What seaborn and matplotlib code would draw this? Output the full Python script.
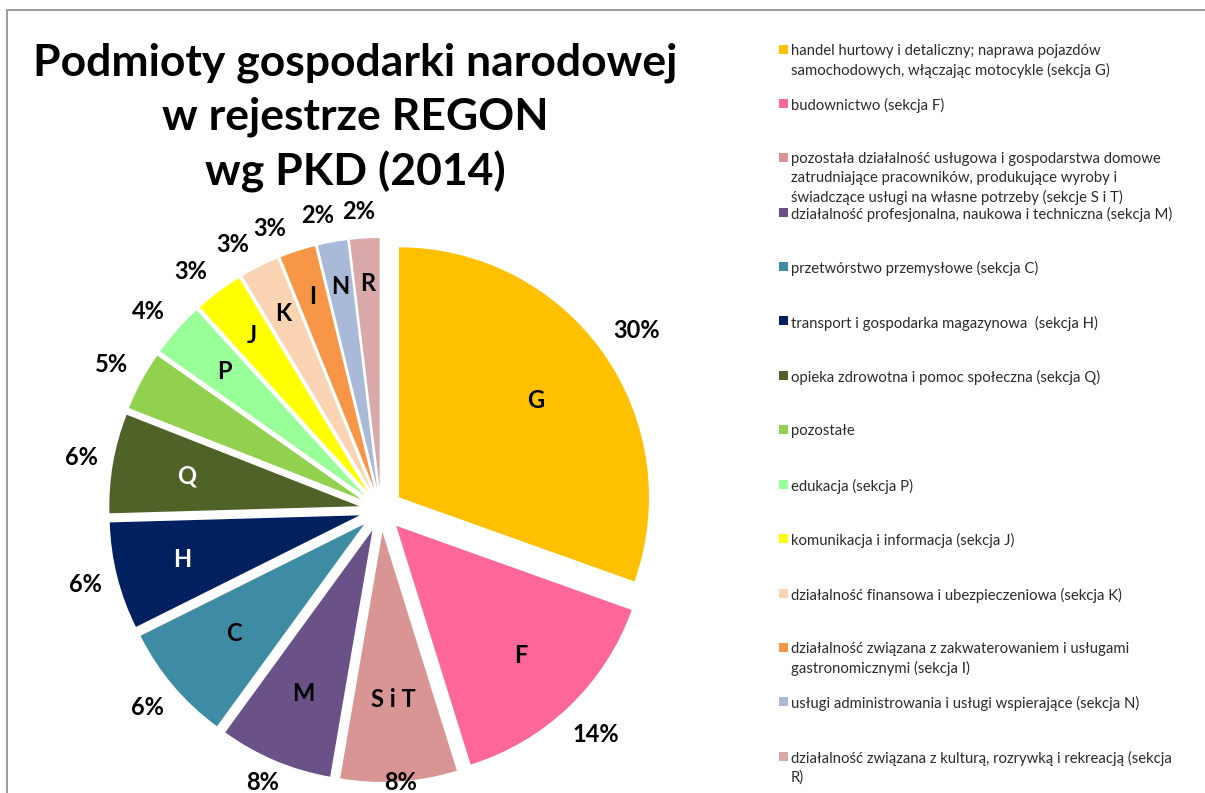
import numpy as np
import seaborn as sns
import matplotlib.pyplot as plt
from matplotlib.patches import Rectangle

sns.set_theme(style="white")
plt.rcParams['font.family'] = ['Lato', 'DejaVu Sans']

# slices, clockwise from 12 o'clock
sections = ["G", "F", "S i T", "M", "C", "H", "Q", "", "P", "J", "K", "I", "N", "R"]
# slice sizes as drawn (share of the full circle, %)
shares = [30.4, 14.7, 7.5, 7.3, 7.6, 6.9, 6.4, 3.8, 3.5, 3.1, 2.5, 2.3, 1.9, 1.9]
# data labels as printed on the chart
pct_labels = ["30%", "14%", "8%", "8%", "6%", "6%", "6%", "5%", "4%", "3%", "3%", "3%", "2%", "2%"]
names = [
    "handel hurtowy i detaliczny; naprawa pojazdów\nsamochodowych, włączając motocykle (sekcja G)",
    "budownictwo (sekcja F)",
    "pozostała działalność usługowa i gospodarstwa domowe\nzatrudniające pracowników, produkujące wyroby i\nświadczące usługi na własne potrzeby (sekcje S i T)",
    "działalność profesjonalna, naukowa i techniczna (sekcja M)",
    "przetwórstwo przemysłowe (sekcja C)",
    "transport i gospodarka magazynowa  (sekcja H)",
    "opieka zdrowotna i pomoc społeczna (sekcja Q)",
    "pozostałe",
    "edukacja (sekcja P)",
    "komunikacja i informacja (sekcja J)",
    "działalność finansowa i ubezpieczeniowa (sekcja K)",
    "działalność związana z zakwaterowaniem i usługami\ngastronomicznymi (sekcja I)",
    "usługi administrowania i usługi wspierające (sekcja N)",
    "działalność związana z kulturą, rozrywką i rekreacją (sekcja\nR)",
]
colors = sns.color_palette([
    "#FFC000", "#FF6699", "#D99594", "#6A5187", "#3D8CA4", "#002060", "#4F6228",
    "#92D050", "#99FF99", "#FFFF00", "#FBD4B4", "#F79646", "#A9B9D8", "#D9A9AA",
])
letter_colors = ["black"] * 5 + ["white", "white"] + ["black"] * 7
letter_r = [0.67, 0.72, 0.67, 0.71, 0.68, 0.73, 0.70, 0.7, 0.75, 0.78, 0.79, 0.81, 0.82, 0.82]
# small counter-clockwise nudges (deg) of the crowded outside labels
label_nudge = [0, 0, 0, 0, 0, 0, 0, 0, 1, 2, 3, 4, 2, 1]

W, H = 1205, 793
fig = plt.figure(figsize=(W / 100, H / 100), dpi=100)

# pie centred at (381, 510) px, radius 250 px
side = 700
ax = fig.add_axes([(381 - side / 2) / W, (H - 510 - side / 2) / H, side / W, side / H])
expl = 0.088
wedges, _ = ax.pie(shares, colors=colors, startangle=90, counterclock=False,
                   explode=[expl] * len(shares), radius=1,
                   wedgeprops=dict(linewidth=0))
ax.set_xlim(-1.4, 1.4)
ax.set_ylim(-1.4, 1.4)
ax.set_aspect('equal')
ax.axis('off')

y_floor = -272 / 250
for w, sec, pct, lc, lr, nd in zip(wedges, sections, pct_labels, letter_colors, letter_r, label_nudge):
    th = np.deg2rad((w.theta1 + w.theta2) / 2)
    cx, cy = w.center
    if sec:
        ax.text(cx + lr * np.cos(th), cy + lr * np.sin(th), sec, ha='center', va='center',
                fontsize=17, fontweight='bold', color=lc)
    # outside label: fixed gap from the rim plus half the text extent
    tl = th + np.deg2rad(nd)
    hw, hh = 0.03 * len(pct), 0.04
    d = 1 + 0.064 + abs(np.cos(tl)) * hw + abs(np.sin(tl)) * hh
    px, py = cx + d * np.cos(tl), cy + d * np.sin(tl)
    ax.text(px, max(py, y_floor), pct, ha='center', va='center',
            fontsize=17, fontweight='bold', color='black', clip_on=False)

fig.text(355 / W, 1 - 118 / H, "Podmioty gospodarki narodowej\nw rejestrze REGON\nwg PKD (2014)",
         ha='center', va='center', fontsize=32, fontweight='bold', color='black',
         linespacing=1.4)

# legend on the right, fixed slot height
for i, (name, col) in enumerate(zip(names, colors)):
    yc = 49 + 54.4 * i
    fig.add_artist(Rectangle((779 / W, 1 - (yc + 4.5) / H), 8.5 / W, 9 / H,
                             transform=fig.transFigure, color=col, lw=0))
    fig.text(791 / W, 1 - (yc - 5.5) / H, name, ha='left', va='top',
             fontsize=10.7, color='#2b2b2b', linespacing=1.42)

# chart area border
fig.add_artist(Rectangle((7 / W, -0.1), 2, 1.1 - 10 / H, transform=fig.transFigure,
                         fill=False, ec='#8a8a8a', lw=1.2))

fig.savefig("out.png", dpi=100)
